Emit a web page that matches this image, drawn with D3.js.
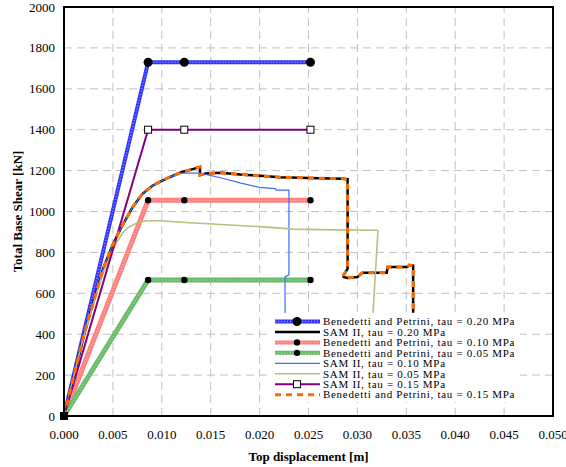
<!DOCTYPE html>
<html lang="en">
<head>
<meta charset="UTF-8" />
<title>Total Base Shear vs Top displacement</title>
<script src="https://d3js.org/d3.v7.min.js"></script>
<style>
  body { margin: 0; background: #fff; }
  svg { display: block; font-family: "Liberation Serif", "Times New Roman", serif; }
  .tick-label { font-size: 13px; fill: #000; }
  .axis-title { font-size: 13px; font-weight: bold; fill: #000; }
  .legend text { font-size: 11px; letter-spacing: 0.7px; fill: #000; }
</style>
</head>
<body>
<div id="chart"></div>
<script>
// x ticks / y ticks
const xTicks = [0, 0.005, 0.010, 0.015, 0.020, 0.025, 0.030, 0.035, 0.040, 0.045, 0.050];
const yTicks = [0, 200, 400, 600, 800, 1000, 1200, 1400, 1600, 1800, 2000];

// Benedetti and Petrini (bilinear)
const bp020 = [[0, 0], [0.0086, 1730], [0.0123, 1730], [0.0252, 1730]];
const bp010 = [[0, 0], [0.0086, 1055], [0.0123, 1055], [0.0252, 1055]];
const bp005 = [[0, 0], [0.0086, 665], [0.0123, 665], [0.0252, 665]];
const sam015 = [[0, 0], [0.0086, 1400], [0.0123, 1400], [0.0252, 1400]];

// SAM II tau = 0.20 (pushover curve)
const sam020 = [
  [0, 0], [0.002, 390], [0.004, 720], [0.005, 840], [0.006, 935], [0.007, 1020],
  [0.008, 1085], [0.009, 1125], [0.010, 1150], [0.011, 1172], [0.012, 1192],
  [0.013, 1205], [0.0139, 1218], [0.0139, 1178], [0.0145, 1186], [0.016, 1190],
  [0.018, 1181], [0.020, 1175], [0.0221, 1168], [0.025, 1164], [0.0285, 1160],
  [0.0290, 1158], [0.0290, 720], [0.0286, 690], [0.0286, 680], [0.0290, 675],
  [0.0300, 680], [0.0305, 700], [0.0330, 700], [0.0331, 729], [0.0351, 729],
  [0.0353, 738], [0.0357, 735], [0.0357, 505]
];
// Benedetti and Petrini tau = 0.15 (overlaps SAM II 0.20)
const bp015 = [
  [0, 0], [0.002, 390], [0.004, 720], [0.005, 840], [0.006, 935], [0.007, 1020],
  [0.008, 1085], [0.009, 1125], [0.010, 1150], [0.011, 1172], [0.012, 1192],
  [0.013, 1205], [0.0139, 1218], [0.0139, 1178], [0.0145, 1186], [0.016, 1190],
  [0.018, 1181], [0.020, 1175], [0.0221, 1168], [0.025, 1164], [0.0285, 1160],
  [0.0290, 1158], [0.0290, 720], [0.0286, 690], [0.0286, 680], [0.0290, 675],
  [0.0300, 680], [0.0305, 700], [0.0330, 700], [0.0331, 729], [0.0351, 729],
  [0.0353, 738], [0.0357, 735], [0.0357, 505]
];
const sam010 = [
  [0, 0], [0.002, 390], [0.004, 720], [0.005, 840], [0.006, 935], [0.007, 1020],
  [0.008, 1085], [0.009, 1125], [0.010, 1150], [0.011, 1172], [0.012, 1188],
  [0.0139, 1188], [0.016, 1165], [0.018, 1140], [0.020, 1118], [0.0216, 1112],
  [0.0217, 1105], [0.0230, 1105], [0.0230, 690], [0.0226, 680], [0.0226, 500]
];
const sam005 = [
  [0, 0], [0.002, 390], [0.004, 700], [0.0052, 835], [0.0060, 895], [0.0065, 920],
  [0.0075, 945], [0.0085, 955], [0.0098, 955], [0.0129, 945], [0.017, 934],
  [0.020, 926], [0.0234, 914], [0.0275, 910], [0.0320, 908], [0.0321, 905],
  [0.0316, 505]
];

const width = 566, height = 467;
const margin = { top: 7, right: 13, bottom: 51, left: 64 };

const svg = d3.select("#chart").append("svg")
  .attr("width", width)
  .attr("height", height);

const x = d3.scaleLinear().domain([0, 0.05]).range([margin.left, width - margin.right]);
const y = d3.scaleLinear().domain([0, 2000]).range([height - margin.bottom, margin.top]);

// grid
svg.append("g").selectAll("line")
  .data(xTicks.slice(1, -1))
  .join("line")
  .attr("x1", d => x(d)).attr("x2", d => x(d))
  .attr("y1", y(0)).attr("y2", y(2000))
  .attr("stroke", "#c0c0c0").attr("stroke-dasharray", "8,5");
svg.append("g").selectAll("line")
  .data(yTicks.slice(1, -1))
  .join("line")
  .attr("y1", d => y(d)).attr("y2", d => y(d))
  .attr("x1", x(0)).attr("x2", x(0.05))
  .attr("stroke", "#c0c0c0").attr("stroke-dasharray", "8,5");

// tick labels
svg.append("g").selectAll("text")
  .data(xTicks)
  .join("text")
  .attr("class", "tick-label")
  .attr("x", d => x(d)).attr("y", y(0) + 23)
  .attr("text-anchor", "middle")
  .text(d => d3.format(".3f")(d));
svg.append("g").selectAll("text")
  .data(yTicks)
  .join("text")
  .attr("class", "tick-label")
  .attr("x", x(0) - 9).attr("y", d => y(d) + 4.5)
  .attr("text-anchor", "end")
  .text(d => d);

svg.append("text").attr("class", "axis-title")
  .attr("x", (x(0) + x(0.05)) / 2).attr("y", 461)
  .attr("text-anchor", "middle")
  .text("Top displacement [m]");
svg.append("text").attr("class", "axis-title")
  .attr("transform", `translate(22,${(y(0) + y(2000)) / 2}) rotate(-90)`)
  .attr("text-anchor", "middle")
  .text("Total Base Shear [kN]");

const line = d3.line().x(d => x(d[0])).y(d => y(d[1]));
const plot = svg.append("g");

const series = [
  { name: "Benedetti and Petrini, tau = 0.20 MPa", data: bp020, color: "#3333ff", width: 4, pattern: "#9999ff", marker: "dot", r: 4.5 },
  { name: "SAM II, tau = 0.20 MPa", data: sam020, color: "#000", width: 2.5 },
  { name: "Benedetti and Petrini, tau = 0.10 MPa", data: bp010, color: "#ff7f7f", width: 5, pattern: "#ffb0b0", marker: "dot", r: 3.2 },
  { name: "Benedetti and Petrini, tau = 0.05 MPa", data: bp005, color: "#66bb66", width: 5, pattern: "#a0d8a0", marker: "dot", r: 3.2 },
  { name: "SAM II, tau = 0.10 MPa", data: sam010, color: "#3d6dff", width: 1.2 },
  { name: "SAM II, tau = 0.05 MPa", data: sam005, color: "#bdbd7f", width: 1.6 },
  { name: "SAM II, tau = 0.15 MPa", data: sam015, color: "#800080", width: 2, marker: "square" },
  { name: "Benedetti and Petrini, tau = 0.15 MPa", data: bp015, color: "#ff6a00", width: 3, dash: "6,5" }
];

series.forEach(s => {
  plot.append("path")
    .attr("d", line(s.data))
    .attr("fill", "none")
    .attr("stroke", s.color)
    .attr("stroke-width", s.width)
    .attr("stroke-dasharray", s.dash || null);
  if (s.pattern) {
    plot.append("path")
      .attr("d", line(s.data))
      .attr("fill", "none")
      .attr("stroke", s.pattern)
      .attr("stroke-width", s.width * 0.35)
      .attr("stroke-dasharray", "1,2");
  }
});

series.forEach(s => {
  const pts = s.data.slice(1);
  if (s.marker === "dot") {
    plot.append("g").selectAll("circle")
      .data(pts).join("circle")
      .attr("cx", d => x(d[0])).attr("cy", d => y(d[1]))
      .attr("r", s.r).attr("fill", "#000");
  } else if (s.marker === "square") {
    plot.append("g").selectAll("rect")
      .data(pts).join("rect")
      .attr("x", d => x(d[0]) - 3.5).attr("y", d => y(d[1]) - 3.5)
      .attr("width", 7).attr("height", 7)
      .attr("fill", "#fff").attr("stroke", "#000").attr("stroke-width", 1);
  }
});

// origin marker
plot.append("rect")
  .attr("x", x(0) - 4).attr("y", y(0) - 4)
  .attr("width", 8).attr("height", 8)
  .attr("fill", "#000");

// frame
svg.append("rect")
  .attr("x", x(0)).attr("y", y(2000))
  .attr("width", x(0.05) - x(0)).attr("height", y(0) - y(2000))
  .attr("fill", "none").attr("stroke", "#000").attr("stroke-width", 2);

// legend
const legend = svg.append("g").attr("class", "legend");
legend.append("rect")
  .attr("x", 272).attr("y", 313).attr("width", 248).attr("height", 89)
  .attr("fill", "#fff");
const rowY = i => 321.5 + i * 10.45;
series.forEach((s, i) => {
  const g = legend.append("g");
  g.append("line")
    .attr("x1", 275).attr("x2", 320).attr("y1", rowY(i)).attr("y2", rowY(i))
    .attr("stroke", s.color).attr("stroke-width", Math.min(s.width, 4))
    .attr("stroke-dasharray", s.dash || null);
  if (s.pattern) {
    g.append("line")
      .attr("x1", 275).attr("x2", 320).attr("y1", rowY(i)).attr("y2", rowY(i))
      .attr("stroke", s.pattern).attr("stroke-width", 1.4)
      .attr("stroke-dasharray", "1,2");
  }
  if (s.marker === "dot") {
    g.append("circle").attr("cx", 297).attr("cy", rowY(i)).attr("r", s.r).attr("fill", "#000");
  } else if (s.marker === "square") {
    g.append("rect").attr("x", 293.5).attr("y", rowY(i) - 3.5).attr("width", 7).attr("height", 7)
      .attr("fill", "#fff").attr("stroke", "#000");
  }
  g.append("text")
    .attr("x", 323).attr("y", rowY(i) + 3.8)
    .text(s.name);
});
</script>
</body>
</html>
